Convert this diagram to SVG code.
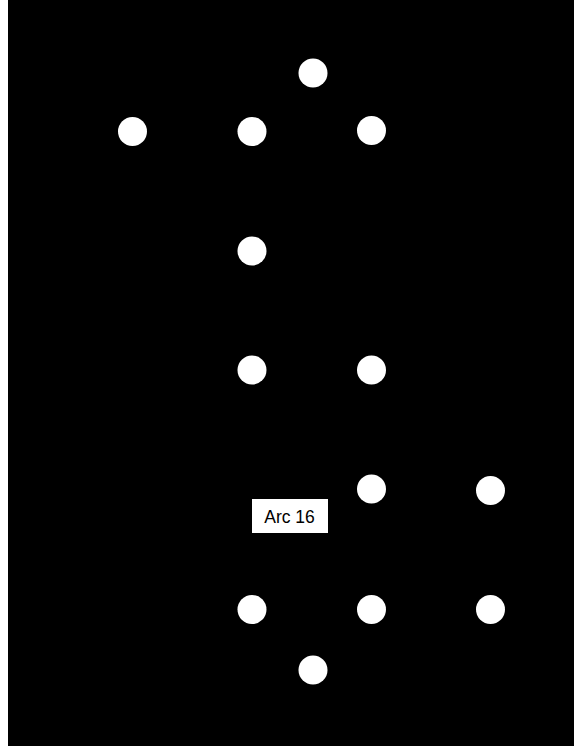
<svg xmlns="http://www.w3.org/2000/svg" width="574" height="746" viewBox="0 0 574 746">
<style>
.node{fill:#ffffff;}
.lbl-box{fill:#ffffff;}
.lbl{font-family:"Liberation Sans",Arial,sans-serif;font-size:17.5px;fill:#000000;text-anchor:middle;}
</style>
<rect x="0" y="0" width="574" height="746" fill="#ffffff"/>
<rect x="8" y="0" width="566" height="746" fill="#000000"/>
<g id="connectors"></g>
<g id="n1"><circle class="node" cx="313" cy="73" r="14.5"/></g>
<g id="n2"><circle class="node" cx="132.5" cy="131.5" r="14.5"/></g>
<g id="n3"><circle class="node" cx="252" cy="131.5" r="14.5"/></g>
<g id="n4"><circle class="node" cx="371.5" cy="130.5" r="14.5"/></g>
<g id="n5"><circle class="node" cx="252" cy="251" r="14.5"/></g>
<g id="n6"><circle class="node" cx="252" cy="370" r="14.5"/></g>
<g id="n7"><circle class="node" cx="371.5" cy="370" r="14.5"/></g>
<g id="n8"><circle class="node" cx="371.5" cy="489" r="14.5"/></g>
<g id="n9"><circle class="node" cx="490.5" cy="490.5" r="14.5"/></g>
<g id="n10"><circle class="node" cx="252" cy="609.5" r="14.5"/></g>
<g id="n11"><circle class="node" cx="371.5" cy="609.5" r="14.5"/></g>
<g id="n12"><circle class="node" cx="490.5" cy="609.5" r="14.5"/></g>
<g id="n13"><circle class="node" cx="313" cy="670" r="14.5"/></g>
<g id="label-arc16">
<rect class="lbl-box" x="252" y="499" width="76" height="34"/>
<text class="lbl" x="289.5" y="523">Arc 16</text>
</g>
</svg>
